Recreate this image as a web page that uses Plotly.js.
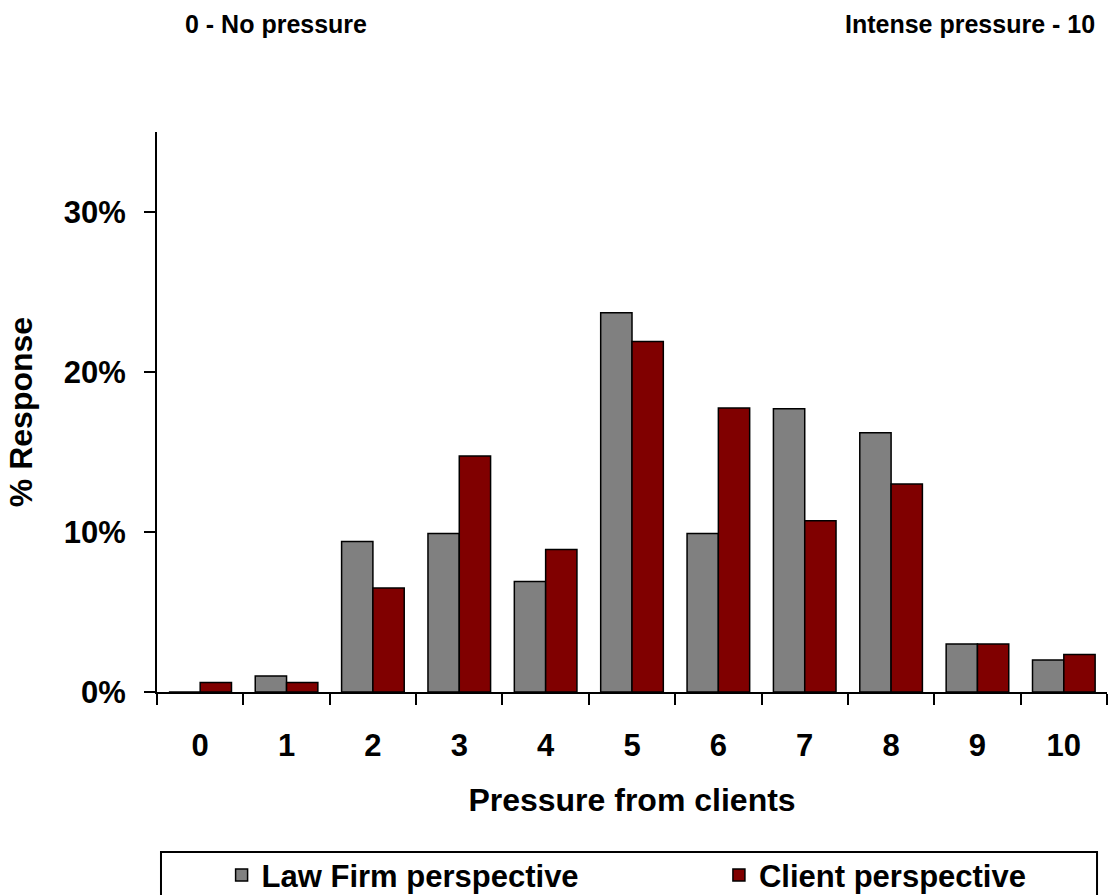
<!DOCTYPE html>
<html>
<head>
<meta charset="utf-8">
<script src="https://cdn.plot.ly/plotly-3.0.1.min.js"></script>
<style>html,body{margin:0;padding:0;background:#fff;}#chart{width:1108px;height:895px;}</style>
</head>
<body>
<div id="chart"></div>
<script>
const categories = ["0","1","2","3","4","5","6","7","8","9","10"];
const lawFirmValues = [0, 1.0, 9.4, 9.9, 6.9, 23.7, 9.9, 17.7, 16.2, 3.0, 2.0];
const clientValues  = [0.6, 0.6, 6.5, 14.75, 8.9, 21.9, 17.75, 10.7, 13.0, 3.0, 2.35];
const seriesNames = ["Law Firm perspective", "Client perspective"];
const yTickValues = [0, 10, 20, 30];
const yTickLabels = ["0%", "10%", "20%", "30%"];

const FONT = "Liberation Sans, Arial, Helvetica, sans-serif";
const boldFont = (size) => ({family: FONT, size: size, color: "#000", weight: 700});

const traces = [
  {type: "bar", name: seriesNames[0], x: categories, y: lawFirmValues, legend: "legend",
   marker: {color: "#808080", line: {color: "#000", width: 1.5}}},
  {type: "bar", name: seriesNames[1], x: categories, y: clientValues, legend: "legend2",
   marker: {color: "#800000", line: {color: "#000", width: 1.5}}}
];

const legendBase = {orientation: "h", xanchor: "left", y: -0.279, yanchor: "top",
                    font: boldFont(31), bgcolor: "rgba(0,0,0,0)", borderwidth: 0};

const layout = {
  width: 1108, height: 895,
  margin: {l: 157, r: 1, t: 132, b: 203, autoexpand: false},
  paper_bgcolor: "#fff", plot_bgcolor: "#fff",
  barmode: "group", bargap: 0.275, bargroupgap: 0,
  font: boldFont(31),
  showlegend: true,
  legend: Object.assign({}, legendBase, {x: 0.068}),
  legend2: Object.assign({}, legendBase, {x: 0.5915}),
  xaxis: {type: "category", range: [-0.5, 10.5], tickson: "boundaries", automargin: false,
          ticks: "outside", ticklen: 11, tickwidth: 2, tickcolor: "#000",
          showline: true, linecolor: "#000", linewidth: 2, showgrid: false, zeroline: false,
          layer: "above traces",
          tickfont: boldFont(31), ticklabelstandoff: 25,
          title: {text: "Pressure from clients", font: boldFont(32), standoff: 26}},
  yaxis: {range: [0, 35], tickvals: yTickValues, ticktext: yTickLabels, automargin: false,
          ticks: "outside", ticklen: 11, tickwidth: 2, tickcolor: "#000",
          showline: true, linecolor: "#000", linewidth: 2, showgrid: false, zeroline: false,
          tickfont: boldFont(31), ticklabelstandoff: 12,
          title: {text: "% Response", font: boldFont(32), standoff: 22}},
  shapes: [
    {type: "rect", xref: "paper", yref: "paper", x0: 0.0042, x1: 0.9895, y0: -0.2857, y1: -0.6,
     line: {color: "#000", width: 2}, fillcolor: "rgba(0,0,0,0)", layer: "below"}
  ],
  annotations: [
    {xref: "paper", yref: "paper", x: 0.0274, y: 1.193, xanchor: "left", yanchor: "middle",
     text: "0 - No pressure", showarrow: false, font: boldFont(25)},
    {xref: "paper", yref: "paper", x: 0.989, y: 1.193, xanchor: "right", yanchor: "middle",
     text: "Intense pressure - 10", showarrow: false, font: boldFont(25)}
  ]
};

Plotly.newPlot("chart", traces, layout, {displayModeBar: false, staticPlot: true});
</script>
</body>
</html>
